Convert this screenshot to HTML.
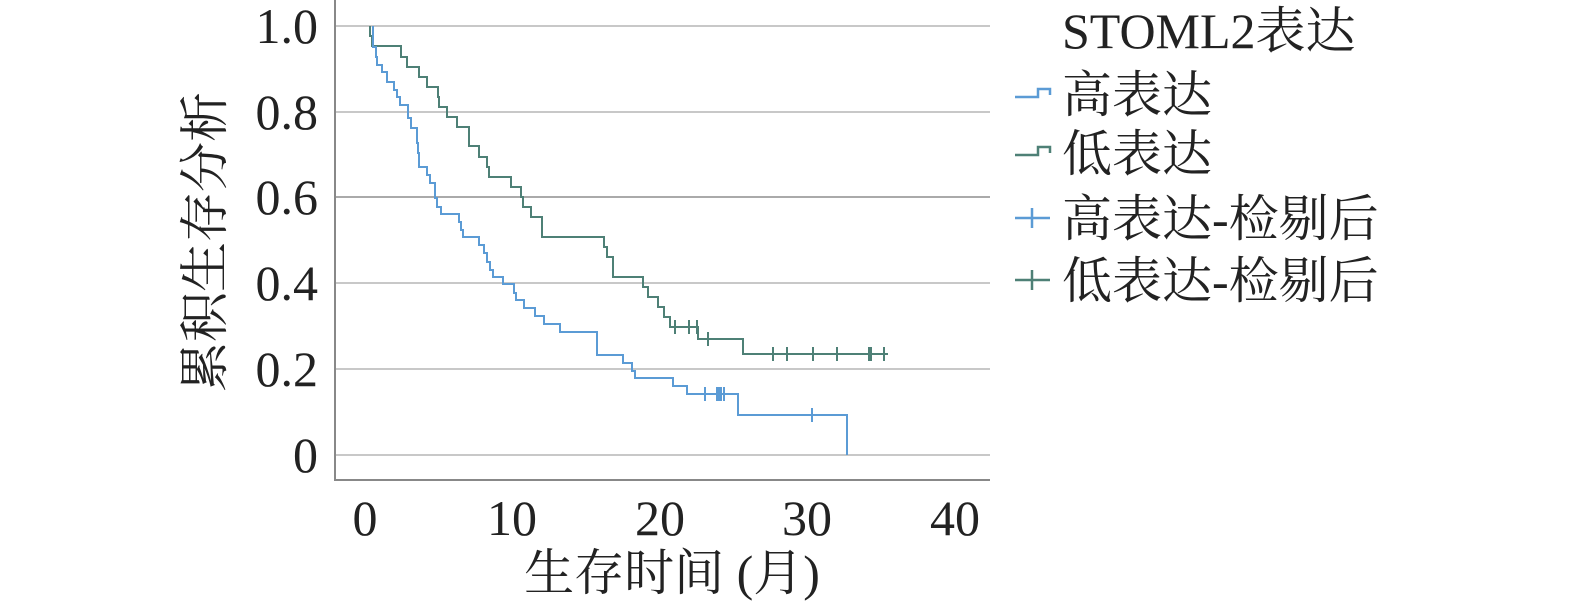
<!DOCTYPE html>
<html><head><meta charset="utf-8"><style>
body{margin:0;background:#fff;}
svg text{font-family:"Liberation Serif","Noto Serif CJK SC","Noto Sans CJK SC",serif;fill:#222;}
</style></head><body>
<svg width="1575" height="605" xmlns="http://www.w3.org/2000/svg">
<g stroke="#c8c8c8" stroke-width="2">
<line x1="335" y1="26" x2="990" y2="26"/>
<line x1="335" y1="112" x2="990" y2="112"/>
<line x1="335" y1="197" x2="990" y2="197" stroke="#aaa"/>
<line x1="335" y1="283" x2="990" y2="283"/>
<line x1="335" y1="369" x2="990" y2="369"/>
<line x1="335" y1="455" x2="990" y2="455"/>
</g>
<g stroke="#888" stroke-width="2" fill="none">
<line x1="335" y1="0" x2="335" y2="481"/>
<line x1="335" y1="480" x2="990" y2="480"/>
</g>
<g font-size="50" text-anchor="end">
<text x="318" y="43">1.0</text>
<text x="318" y="129">0.8</text>
<text x="318" y="214">0.6</text>
<text x="318" y="300">0.4</text>
<text x="318" y="386">0.2</text>
<text x="318" y="472">0</text>
</g>
<g font-size="50" text-anchor="middle">
<text x="365" y="535">0</text>
<text x="512" y="535">10</text>
<text x="660" y="535">20</text>
<text x="807" y="535">30</text>
<text x="955" y="535">40</text>
<text x="672" y="590">生存时间 (月)</text>
<text transform="translate(222,242) rotate(-90)">累积生存分析</text>
</g>
<polyline fill="none" stroke="#4e8076" stroke-width="2" points="370,26 370,36 372,36 372,46 401,46 401,57 407,57 407,67 419,67 419,77 427,77 427,87 438,87 438,97 439,97 439,107 447,107 447,117 457,117 457,127 469,127 469,146 479,146 479,157 487,157 487,167 489,167 489,177 511,177 511,187 521,187 521,197 523,197 523,207 531,207 531,217 542,217 542,237 604,237 604,247 607,247 607,257 613,257 613,277 643,277 643,287 648,287 648,297 658,297 658,307 664,307 664,317 670,317 670,327 698,327 698,339 743,339 743,354 888,354"/>
<g stroke="#4e8076" stroke-width="2">
<line x1="675" y1="320" x2="675" y2="334"/><line x1="689" y1="320" x2="689" y2="334"/><line x1="697" y1="320" x2="697" y2="334"/><line x1="708" y1="332" x2="708" y2="346"/>
<line x1="773" y1="347" x2="773" y2="361"/><line x1="787" y1="347" x2="787" y2="361"/><line x1="813" y1="347" x2="813" y2="361"/><line x1="837" y1="347" x2="837" y2="361"/><line x1="869" y1="347" x2="869" y2="361"/><line x1="871" y1="347" x2="871" y2="361"/><line x1="884" y1="347" x2="884" y2="361"/>
</g>
<polyline fill="none" stroke="#5b9bd5" stroke-width="2" points="373,26 373,47 376,47 376,57 377,57 377,65 382,65 382,72 387,72 387,82 394,82 394,90 397,90 397,97 400,97 400,105 408,105 408,118 411,118 411,128 417,128 417,143 418,143 418,153 419,153 419,167 427,167 427,175 430,175 430,183 435,183 435,198 437,198 437,207 441,207 441,214 459,214 459,222 461,222 461,230 463,230 463,237 479,237 479,245 484,245 484,253 487,253 487,262 490,262 490,270 493,270 493,277 503,277 503,284 514,284 514,293 516,293 516,300 524,300 524,308 535,308 535,316 544,316 544,324 560,324 560,332 597,332 597,355 623,355 623,363 632,363 632,371 635,371 635,378 673,378 673,386 687,386 687,394 738,394 738,415 847,415 847,455"/>
<g stroke="#5b9bd5" stroke-width="2">
<line x1="705" y1="387" x2="705" y2="401"/><line x1="717" y1="387" x2="717" y2="401"/><line x1="719" y1="387" x2="719" y2="401"/><line x1="721" y1="387" x2="721" y2="401"/><line x1="724" y1="387" x2="724" y2="401"/><line x1="812" y1="408" x2="812" y2="422"/>
</g>
<g font-size="50">
<text x="1062" y="48">STOML2表达</text>
<text x="1062" y="112">高表达</text>
<text x="1062" y="171">低表达</text>
<text x="1062" y="236">高表达-检剔后</text>
<text x="1062" y="298">低表达-检剔后</text>
</g>
<g fill="none" stroke-width="2.5">
<polyline stroke="#5b9bd5" points="1015,97 1038,97 1038,89 1050,89 1050,95"/>
<polyline stroke="#4e8076" points="1015,155 1038,155 1038,147 1050,147 1050,153"/>
<g stroke="#5b9bd5"><line x1="1015" y1="218" x2="1050" y2="218"/><line x1="1032" y1="208" x2="1032" y2="228"/></g>
<g stroke="#4e8076"><line x1="1015" y1="280" x2="1050" y2="280"/><line x1="1032" y1="270" x2="1032" y2="290"/></g>
</g>
</svg>
</body></html>
